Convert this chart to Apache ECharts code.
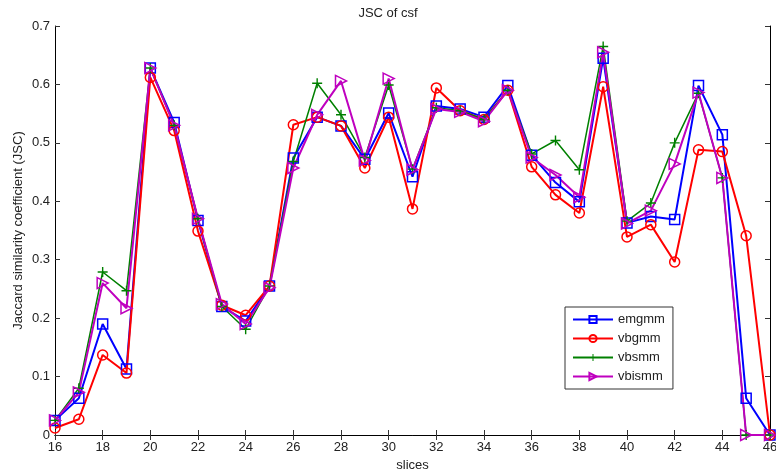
<!DOCTYPE html>
<html><head><meta charset="utf-8">
<script src="https://cdn.jsdelivr.net/npm/echarts@6/dist/echarts.min.js"></script>
<style>html,body{margin:0;padding:0;background:#fff}#c{width:776px;height:471px}</style>
</head><body><div id="c"></div>
<script>
const slices = [16,17,18,19,20,21,22,23,24,25,26,27,28,29,30,31,32,33,34,35,36,37,38,39,40,41,42,43,44,45,46];
const xTicks = [16,18,20,22,24,26,28,30,32,34,36,38,40,42,44,46];
const yTicks = [0,0.1,0.2,0.3,0.4,0.5,0.6,0.7];
const emgmm  = [0.025,0.063,0.190,0.113,0.628,0.535,0.367,0.220,0.195,0.255,0.474,0.544,0.529,0.472,0.551,0.442,0.563,0.558,0.544,0.598,0.479,0.432,0.399,0.645,0.363,0.374,0.369,0.598,0.514,0.063,0];
const vbgmm  = [0.012,0.027,0.137,0.106,0.612,0.521,0.349,0.222,0.205,0.255,0.531,0.544,0.529,0.457,0.544,0.387,0.594,0.555,0.540,0.590,0.459,0.411,0.380,0.596,0.339,0.360,0.296,0.488,0.485,0.341,0];
const vbsmm  = [0.025,0.080,0.279,0.247,0.628,0.530,0.370,0.220,0.181,0.255,0.468,0.602,0.548,0.475,0.599,0.455,0.560,0.555,0.540,0.590,0.481,0.504,0.454,0.665,0.366,0.397,0.500,0.585,0.440,0,0];
const vbismm = [0.025,0.073,0.260,0.217,0.628,0.530,0.370,0.224,0.190,0.252,0.457,0.548,0.606,0.470,0.610,0.454,0.558,0.553,0.537,0.590,0.475,0.445,0.407,0.655,0.362,0.384,0.464,0.586,0.440,0,0];

const pairs = arr => slices.map((s,i)=>[s,arr[i]]);
const font = 'Liberation Sans, Arial, sans-serif';
const chart = echarts.init(document.getElementById('c'));
const plusPath = 'path://M4.3,0L5.7,0L5.7,4.3L10,4.3L10,5.7L5.7,5.7L5.7,10L4.3,10L4.3,5.7L0,5.7L0,4.3L4.3,4.3Z';
const triPath = 'path://M0,0L10,5L0,10Z';
function mk(name, data, color, symbol, size, lw, fill, bw){
  return {name, type:'line', data:pairs(data), symbol, symbolSize:size,
    lineStyle:{color, width:lw}, color,
    itemStyle:{color:fill, borderColor:color, borderWidth:bw},
    animation:false, z: 2};
}
const axisCommon = {
  axisLine:{lineStyle:{color:'#000', width:1}},
  axisTick:{inside:true, length:5, lineStyle:{color:'#333'}},
  splitLine:{show:false}
};
chart.setOption({
  backgroundColor:'#fff',
  title:{text:'JSC of csf', left:'center', top:2, textStyle:{fontFamily:font, fontSize:13, fontWeight:'normal', color:'#222'}},
  grid:{left:55, top:26, right:6, bottom:36, containLabel:false, outerBoundsMode:'none'},
  xAxis:[
    Object.assign({type:'value', min:16, max:46, interval:2, name:'slices', nameLocation:'middle', nameGap:24, nameMoveOverlap:false,
      nameTextStyle:{fontFamily:font, fontSize:13, color:'#222'},
      axisLabel:{fontFamily:font, fontSize:13, color:'#222', margin:6, formatter:v=>xTicks.includes(v)?String(v):''}}, axisCommon),
    Object.assign({type:'value', min:16, max:46, interval:2, position:'top', axisLabel:{show:false}}, axisCommon)
  ],
  yAxis:[
    Object.assign({type:'value', min:0, max:0.7, interval:0.1, name:'Jaccard similarity coefficient (JSC)', nameLocation:'middle', nameGap:30, nameMoveOverlap:false,
      nameTextStyle:{fontFamily:font, fontSize:13, color:'#222'},
      axisLabel:{fontFamily:font, fontSize:13, color:'#222', margin:5, formatter:v=>{const t=yTicks.find(y=>Math.abs(y-v)<1e-9); return t===undefined?'':(t===0?'0':String(t));}}}, axisCommon),
    Object.assign({type:'value', min:0, max:0.7, interval:0.1, position:'right', axisLabel:{show:false}}, axisCommon)
  ],
  legend:{orient:'vertical', left:565, top:307, itemWidth:40, itemHeight:9, itemGap:6,
    padding:[6,8,6,7], borderColor:'#333', borderWidth:1, backgroundColor:'#fff',
    textStyle:{fontFamily:font, fontSize:13, color:'#222'},
    data:['emgmm','vbgmm','vbsmm','vbismm']},
  series:[
    mk('emgmm', emgmm, '#0000ff', 'rect', 10, 2, 'transparent', 1.5),
    mk('vbgmm', vbgmm, '#ff0000', 'circle', 10, 2, 'transparent', 1.5),
    mk('vbsmm', vbsmm, '#008000', plusPath, 10, 1.5, '#008000', 0),
    mk('vbismm', vbismm, '#bf00bf', triPath, 11, 2, 'transparent', 1.5)
  ]
});
</script></body></html>
